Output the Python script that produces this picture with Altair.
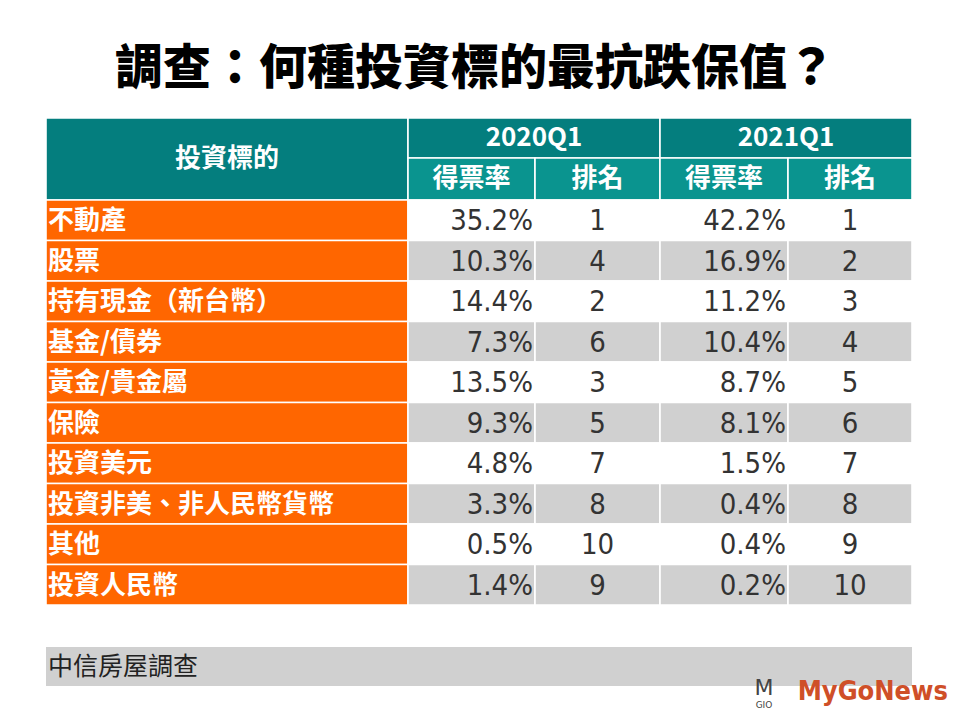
import altair as alt
import pandas as pd

# ---------------- data ----------------
title_text = "調查：何種投資標的最抗跌保值？"
header_label = "投資標的"
periods = ["2020Q1", "2021Q1"]
sub_headers = ["得票率", "排名", "得票率", "排名"]
categories = ["不動產", "股票", "持有現金（新台幣）", "基金/債券", "黃金/貴金屬",
              "保險", "投資美元", "投資非美、非人民幣貨幣", "其他", "投資人民幣"]
vote_2020 = [35.2, 10.3, 14.4, 7.3, 13.5, 9.3, 4.8, 3.3, 0.5, 1.4]
rank_2020 = [1, 4, 2, 6, 3, 5, 7, 8, 10, 9]
vote_2021 = [42.2, 16.9, 11.2, 10.4, 8.7, 8.1, 1.5, 0.4, 0.4, 0.2]
rank_2021 = [1, 2, 3, 4, 5, 6, 7, 8, 9, 10]
source_text = "中信房屋調查"
brand_text = "MyGoNews"

# ---------------- layout ----------------
W, H = 944, 704
LEFT, TOP = 46, 118
col_w = [362, 127, 125, 128, 124]
hdr_h = [40, 42]
row_h = 40.5
edges = [LEFT]
for w in col_w:
    edges.append(edges[-1] + w)
hdr_edges = [TOP, TOP + hdr_h[0], TOP + hdr_h[0] + hdr_h[1]]
body_top = hdr_edges[2]
n = len(categories)
body_bottom = body_top + n * row_h
foot_top, foot_bot = body_bottom + 42, body_bottom + 81

TEAL_DARK = "#047e7e"
TEAL_LIGHT = "#0a948f"
ORANGE = "#ff6600"
GREY = "#d0d0d0"

rects = []
# header
rects.append(dict(x=edges[0], x2=edges[1], y=hdr_edges[0], y2=hdr_edges[2], fill=TEAL_DARK))
for p in range(2):
    rects.append(dict(x=edges[1 + 2 * p], x2=edges[3 + 2 * p], y=hdr_edges[0], y2=hdr_edges[1], fill=TEAL_DARK))
for c in range(4):
    rects.append(dict(x=edges[1 + c], x2=edges[2 + c], y=hdr_edges[1], y2=hdr_edges[2], fill=TEAL_LIGHT))
# body
for i in range(n):
    y0 = body_top + i * row_h
    rects.append(dict(x=edges[0], x2=edges[1], y=y0, y2=y0 + row_h, fill=ORANGE))
    for c in range(4):
        rects.append(dict(x=edges[1 + c], x2=edges[2 + c], y=y0, y2=y0 + row_h,
                          fill="#ffffff" if i % 2 == 0 else GREY))
rect_df = pd.DataFrame(rects)
foot_df = pd.DataFrame([dict(x=edges[0], x2=edges[-1], y=foot_top, y2=foot_bot, fill=GREY)])

xs = alt.Scale(domain=[8, 8 + W], range=[0, W])
ys = alt.Scale(domain=[8, 8 + H], range=[0, H])


def X(f="x"):
    return alt.X(f"{f}:Q", scale=xs, axis=None)


def Y(f="y"):
    return alt.Y(f"{f}:Q", scale=ys, axis=None)


cells = alt.Chart(rect_df).mark_rect(stroke="white", strokeWidth=1.6).encode(
    x=X(), x2="x2:Q", y=Y(), y2="y2:Q", fill=alt.Fill("fill:N", scale=None))
foot = alt.Chart(foot_df).mark_rect().encode(
    x=X(), x2="x2:Q", y=Y(), y2="y2:Q", fill=alt.Fill("fill:N", scale=None))

CJK = "Noto Sans CJK TC"
NUM = "'DejaVu Sans Condensed', 'Liberation Sans Narrow', Roboto, sans-serif"

# header texts
hdr_rows = [dict(t=header_label, x=(edges[0] + edges[1]) / 2, y=(hdr_edges[0] + hdr_edges[2]) / 2)]
for p in range(2):
    hdr_rows.append(dict(t=periods[p], x=(edges[1 + 2 * p] + edges[3 + 2 * p]) / 2,
                         y=(hdr_edges[0] + hdr_edges[1]) / 2))
for c in range(4):
    hdr_rows.append(dict(t=sub_headers[c], x=(edges[1 + c] + edges[2 + c]) / 2,
                         y=(hdr_edges[1] + hdr_edges[2]) / 2))
hdr_df = pd.DataFrame(hdr_rows)
hdr_text = alt.Chart(hdr_df).mark_text(font=CJK, fontSize=26, fontWeight="bold", color="white",
                                       align="center", baseline="middle").encode(
    x=X(), y=Y(), text="t:N")

body = pd.DataFrame(dict(cat=categories, v20=[f"{v:.1f}%" for v in vote_2020], r20=rank_2020,
                         v21=[f"{v:.1f}%" for v in vote_2021], r21=rank_2021))
body["y"] = [body_top + (i + 0.5) * row_h + 1 for i in range(n)]
body["xl"] = edges[0] + 2
body["xv20"] = edges[2] - 2
body["xr20"] = (edges[2] + edges[3]) / 2
body["xv21"] = edges[4] - 2
body["xr21"] = (edges[4] + edges[5]) / 2

labels = alt.Chart(body).mark_text(font=CJK, fontSize=26, fontWeight="bold", color="white",
                                   align="left", baseline="middle").encode(
    x=X("xl"), y=Y(), text="cat:N")
num_style = dict(font=NUM, fontSize=29, color="#333333", baseline="middle")
v20 = alt.Chart(body).mark_text(align="right", **num_style).encode(x=X("xv20"), y=Y(), text="v20:N")
r20 = alt.Chart(body).mark_text(align="center", **num_style).encode(x=X("xr20"), y=Y(), text="r20:N")
v21 = alt.Chart(body).mark_text(align="right", **num_style).encode(x=X("xv21"), y=Y(), text="v21:N")
r21 = alt.Chart(body).mark_text(align="center", **num_style).encode(x=X("xr21"), y=Y(), text="r21:N")

misc = pd.DataFrame([dict(t=title_text, x=475, y=70)])
title = alt.Chart(misc).mark_text(font=CJK, fontSize=48, fontWeight=900, color="#000000",
                                  align="center", baseline="middle").encode(x=X(), y=Y(), text="t:N")

src_df = pd.DataFrame([dict(t=source_text, x=edges[0] + 2, y=(foot_top + foot_bot) / 2)])
src = alt.Chart(src_df).mark_text(font=CJK, fontSize=25, color="#222222", align="left",
                                  baseline="middle").encode(x=X(), y=Y(), text="t:N")

brand_df = pd.DataFrame([dict(t=brand_text, x=948, y=692)])
brand = alt.Chart(brand_df).mark_text(font=NUM, fontSize=27, fontWeight="bold", color="#cf4f28",
                                      align="right", baseline="middle").encode(x=X(), y=Y(), text="t:N")
icon_df = pd.DataFrame([dict(t="M", x=764, y=688, s=22), dict(t="GIO", x=764, y=705, s=9)])
icon = alt.Chart(icon_df).mark_text(font="DejaVu Sans", color="#444444", align="center",
                                    baseline="middle").encode(
    x=X(), y=Y(), text="t:N", size=alt.Size("s:Q", scale=None, legend=None))

chart = alt.layer(cells, foot, hdr_text, labels, v20, r20, v21, r21, title, src, brand, icon).properties(
    width=W, height=H, padding=0, background="white"
).configure_view(strokeWidth=0)

chart.save("out.html", embed_options={"renderer": "svg", "actions": False})
